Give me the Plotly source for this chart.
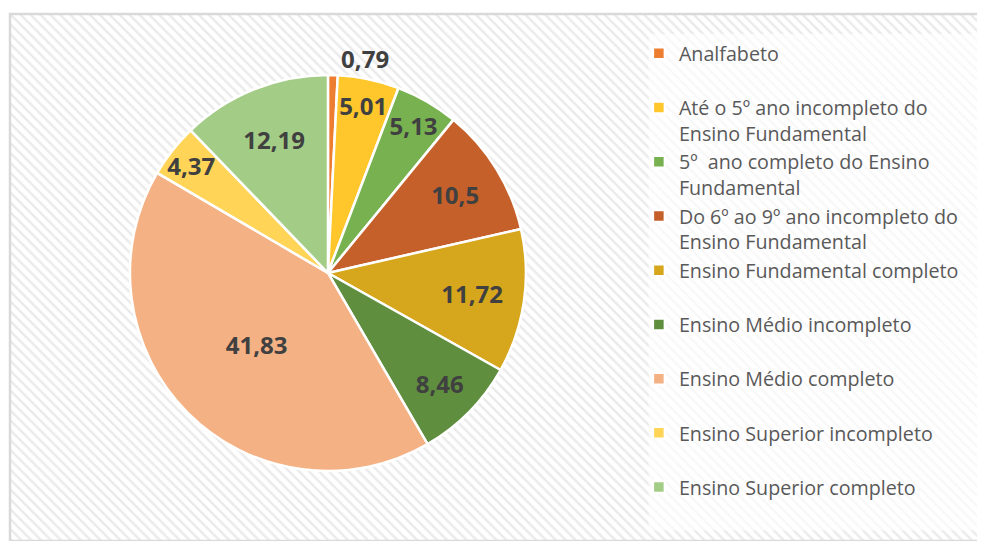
import plotly.graph_objects as go

categories = [
    "Analfabeto",
    "Até o 5º ano incompleto do<br>Ensino Fundamental",
    "5º  ano completo do Ensino<br>Fundamental",
    "Do 6º ao 9º ano incompleto do<br>Ensino Fundamental",
    "Ensino Fundamental completo",
    "Ensino Médio incompleto",
    "Ensino Médio completo",
    "Ensino Superior incompleto",
    "Ensino Superior completo",
]
values = [0.79, 5.01, 5.13, 10.5, 11.72, 8.46, 41.83, 4.37, 12.19]
colors = ["#ED7D31", "#FFC72C", "#78B250", "#C6602A", "#D6A61C",
          "#5E8E3E", "#F4B184", "#FFD457", "#A3CC87"]
text_positions = ["outside"] + ["inside"] * 8

# legend labels: pad single-line labels to two lines so every entry has the same height
legend_labels = [c if "<br>" in c else c + "<br> " for c in categories]

fig = go.Figure()

# hatched chart background
fig.add_trace(go.Scatter(
    x=[0, 1, 1, 0, 0], y=[0, 0, 1, 1, 0],
    mode="lines", fill="toself", line=dict(width=0),
    fillcolor="white",
    fillpattern=dict(shape="\\", fgcolor="#d6d6d6", bgcolor="white", size=7, solidity=0.35),
    hoverinfo="skip", showlegend=False,
))

fig.add_trace(go.Pie(
    labels=legend_labels,
    values=values,
    sort=False,
    direction="clockwise",
    rotation=0,
    marker=dict(colors=colors, line=dict(color="white", width=2.5)),
    textinfo="value",
    texttemplate="%{value}",
    textposition=text_positions,
    insidetextorientation="horizontal",
    textfont=dict(family="Open Sans, sans-serif", size=24, color="#404040", weight="bold"),
    outsidetextfont=dict(family="Open Sans, sans-serif", size=24, color="#404040", weight="bold"),
    domain=dict(x=[0.1230, 0.5292], y=[0.1328, 0.8843]),
    hoverinfo="label+value",
))

fig.update_layout(
    width=977, height=533,
    margin=dict(l=2, r=0, t=6, b=0),
    paper_bgcolor="white",
    plot_bgcolor="white",
    separators=",.",
    uniformtext=dict(minsize=24, mode="show"),
    xaxis=dict(visible=False, range=[0, 1], fixedrange=True, domain=[0, 1]),
    yaxis=dict(visible=False, range=[0, 1], fixedrange=True, domain=[0, 1]),
    showlegend=True,
    legend=dict(
        x=0.645, y=0.962, xanchor="left", yanchor="top",
        bgcolor="rgba(0,0,0,0)",
        font=dict(family="Open Sans, sans-serif", size=19.7, color="#595959"),
        valign="top",
        itemwidth=30,
        traceorder="normal",
    ),
    shapes=[
        dict(type="rect", xref="paper", yref="paper", x0=0.655, x1=1.0, y0=0.02, y1=0.962,
             fillcolor="rgba(255,255,255,0.65)", line=dict(width=0), layer="above"),
        dict(type="rect", xref="paper", yref="paper", x0=0, x1=1.0, y0=0, y1=1.0,
             fillcolor="rgba(0,0,0,0)", line=dict(color="#d9d9d9", width=2.5), layer="above"),
    ],
)

fig.write_html("out.html")
